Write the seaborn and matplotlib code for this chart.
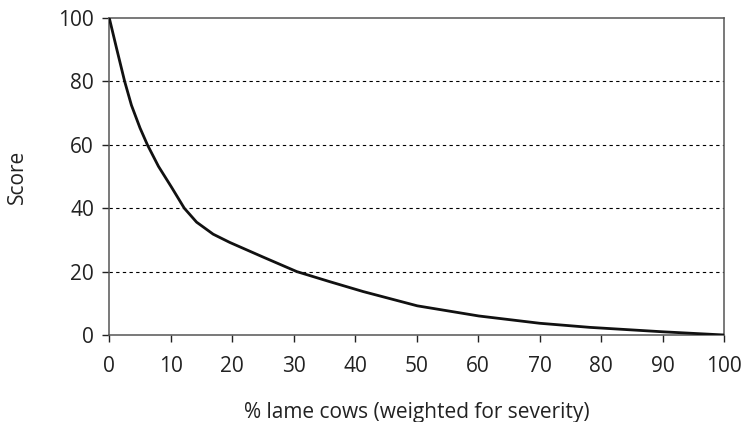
import matplotlib
matplotlib.use("Agg")
import matplotlib.pyplot as plt
import seaborn as sns
import pandas as pd

lame_pct = [0, 1.2, 2.5, 3.6, 5.0, 6.2, 8.0, 10.1, 12.2, 14.2, 16.9, 19.6,
            22.3, 25.0, 30.5, 35.9, 41.3, 50.1, 60.1, 70.0, 78.2, 90.1, 100]
score = [100, 90.3, 80, 72.5, 65.3, 60, 53.2, 46.7, 40, 35.6, 31.8, 29.2,
         26.9, 24.6, 20, 16.8, 13.7, 9.2, 6.0, 3.7, 2.4, 1.0, 0]
x_ticks = [0, 10, 20, 30, 40, 50, 60, 70, 80, 90, 100]
y_ticks = [0, 20, 40, 60, 80, 100]
grid_levels = [20, 40, 60, 80]

sns.set_style("ticks")
plt.rcParams['font.family'] = ['Open Sans', 'DejaVu Sans']

df = pd.DataFrame({"x": lame_pct, "y": score})

fig = plt.figure(figsize=(7.45, 4.22), dpi=100)
ax = fig.add_axes([0.1467, 0.2062, 0.8251, 0.7511])

for g in grid_levels:
    ax.axhline(g, color="black", lw=0.8, ls=(0, (3, 3)), zorder=1)

sns.lineplot(data=df, x="x", y="y", ax=ax, color="#111111", lw=2.0, zorder=3)

ax.set_xlim(0, 100)
ax.set_ylim(0, 100)
ax.set_xticks(x_ticks)
ax.set_yticks(y_ticks)
ax.tick_params(axis="both", labelsize=15, colors="#222222", width=1.0, length=5)
ax.tick_params(axis="x", pad=10)
ax.tick_params(axis="y", pad=6)
for s in ax.spines.values():
    s.set_color("#555555")
    s.set_linewidth(1.1)
    s.set_visible(True)

ax.set_xlabel("% lame cows (weighted for severity)", fontsize=15, color="#222222", va="center")
ax.set_ylabel("Score", fontsize=15, color="#222222", va="center")
ax.xaxis.set_label_coords(0.5, -0.243)
ax.yaxis.set_label_coords(-0.150, 0.5)

fig.savefig("out.png", dpi=100)
